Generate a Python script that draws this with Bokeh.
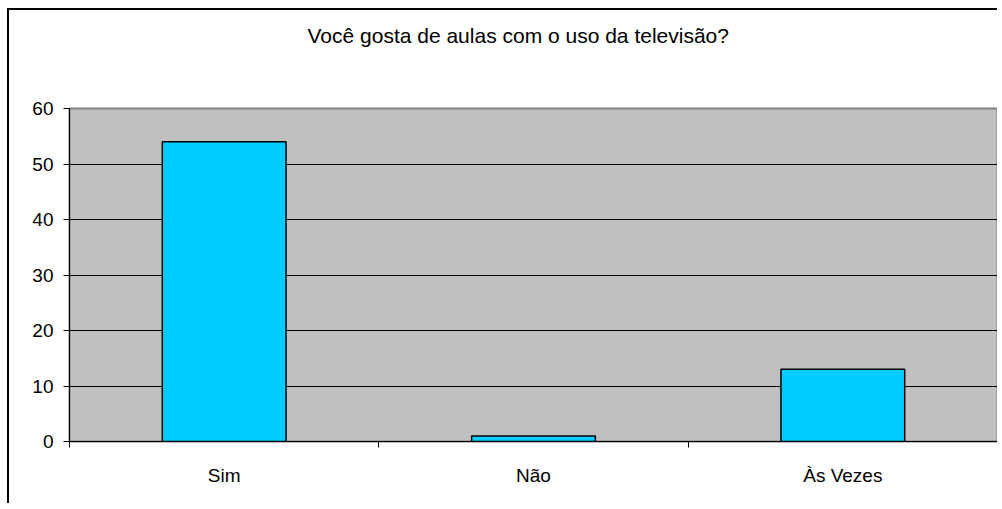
from bokeh.plotting import figure
from bokeh.models import FixedTicker, Range1d, Title, ColumnDataSource
from bokeh.embed import file_html
from bokeh.resources import INLINE

categories = ["Sim", "Não", "Às Vezes"]
values = [54, 1, 13]
y_ticks = [0, 10, 20, 30, 40, 50, 60]
title_text = "Você gosta de aulas com o uso da televisão?"

FONT = "Liberation Sans"

x_pos = [i + 0.5 for i in range(len(categories))]
source = ColumnDataSource(dict(x=x_pos, top=values, cat=categories))

p = figure(width=990, height=495, output_backend="svg", toolbar_location=None,
           x_range=Range1d(0, len(categories)), y_range=Range1d(0, 60),
           min_border_left=60, min_border_top=98, min_border_right=2, min_border_bottom=64)
p.styles = {"border-left": "2px solid black", "border-top": "2px solid black",
            "margin-left": "7px", "margin-top": "8px"}

# spacer panel between frame and title
spacer = Title(text=" ", text_font_size="1px", standoff=59, text_color="white")
p.add_layout(spacer, "above")

t = Title(text=title_text, align="left", offset=238, text_font=FONT, text_font_size="21px",
          text_font_style="normal", text_color="black", standoff=0)
p.add_layout(t, "above")

p.background_fill_color = "#C0C0C0"
p.border_fill_color = "white"
p.outline_line_color = "#808080"
p.outline_line_width = 2

p.vbar(x="x", top="top", width=0.4, bottom=0, source=source,
       fill_color="#00CCFF", line_color="black", line_width=1.5)

p.xgrid.visible = False
p.ygrid.ticker = FixedTicker(ticks=y_ticks[1:-1])
p.ygrid.grid_line_color = "black"
p.ygrid.grid_line_width = 1

p.yaxis.ticker = FixedTicker(ticks=y_ticks)
p.yaxis.major_tick_in = 0
p.yaxis.major_tick_out = 6
p.yaxis.minor_tick_line_color = None
p.yaxis.axis_line_color = "black"
p.yaxis.major_label_text_font = FONT
p.yaxis.major_label_text_font_size = "19px"
p.yaxis.major_label_text_color = "black"
p.yaxis.major_label_standoff = 10

p.xaxis.ticker = FixedTicker(ticks=x_pos, minor_ticks=list(range(len(categories) + 1)))
p.xaxis.major_label_overrides = {x: c for x, c in zip(x_pos, categories)}
p.xaxis.major_tick_in = 0
p.xaxis.major_tick_out = 0
p.xaxis.minor_tick_in = 0
p.xaxis.minor_tick_out = 6
p.xaxis.minor_tick_line_color = "black"
p.xaxis.axis_line_color = "black"
p.xaxis.major_label_text_font = FONT
p.xaxis.major_label_text_font_size = "19px"
p.xaxis.major_label_text_color = "black"
p.xaxis.major_label_standoff = 17

open("out.html", "w").write(file_html(p, INLINE))
